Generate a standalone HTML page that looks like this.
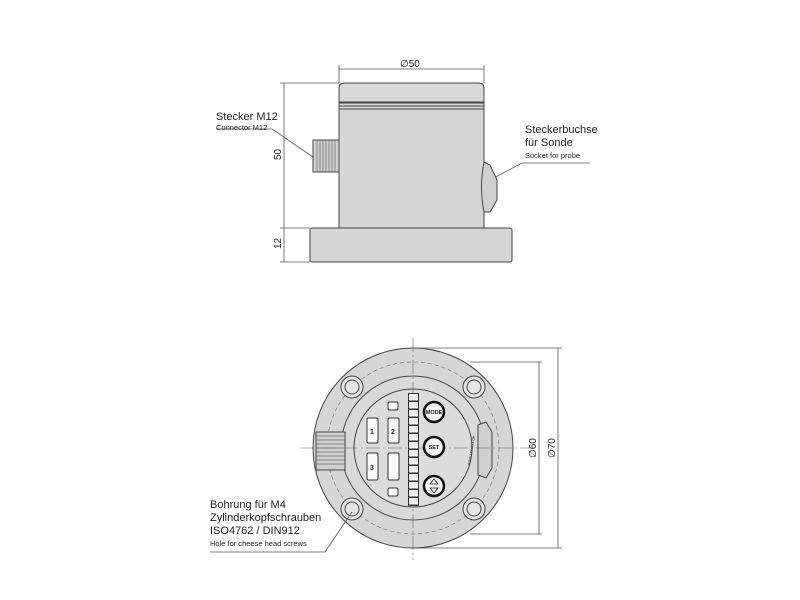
<!DOCTYPE html>
<html><head><meta charset="utf-8"><style>
html,body{margin:0;padding:0;background:#fff;}
svg{display:block;}
text{font-family:"Liberation Sans",sans-serif;fill:#222;}
</style></head><body>
<svg width="800" height="600" viewBox="0 0 800 600" xmlns="http://www.w3.org/2000/svg">
<!-- TOP VIEW -->
<g stroke="#555" stroke-width="0.8" fill="none">
 <!-- dim lines -->
 <line x1="339" y1="69" x2="484" y2="69"/>
 <line x1="339" y1="65" x2="339" y2="83"/>
 <line x1="484" y1="65" x2="484" y2="83"/>
 <line x1="280" y1="83" x2="339" y2="83"/>
 <line x1="280" y1="228" x2="310" y2="228"/>
 <line x1="280" y1="262" x2="310" y2="262"/>
 <line x1="284" y1="83" x2="284" y2="262"/>
 <!-- leaders -->
 <polyline points="216,129 272,129 313,157"/>
 <polyline points="590,163 522,163 490,180"/>
</g>
<text x="400" y="67" font-size="10">∅50</text>
<text x="281" y="160" font-size="10" transform="rotate(-90 281 160)">50</text>
<text x="281" y="249" font-size="10" transform="rotate(-90 281 249)">12</text>
<!-- body -->
<rect x="339" y="88" width="145" height="142" fill="#d6d6d6" stroke="#444" stroke-width="1"/>
<path d="M339,102 L339,88 Q339,83 345,83 L478,83 Q484,83 484,88 L484,102 Z" fill="#d9d9d9" stroke="#444"/>
<line x1="339" y1="103" x2="484" y2="103" stroke="#444"/>
<line x1="339" y1="106" x2="484" y2="106" stroke="#444"/>
<line x1="339" y1="109" x2="484" y2="109" stroke="#444"/>
<rect x="310" y="228" width="202" height="34" rx="2" fill="#d6d6d6" stroke="#444"/>
<!-- connector -->
<rect x="313" y="140" width="26" height="32" fill="#d0d0d0" stroke="#444"/>
<g stroke="#666" stroke-width="0.7">
 <line x1="317" y1="140" x2="317" y2="172"/><line x1="320" y1="140" x2="320" y2="172"/><line x1="323" y1="140" x2="323" y2="172"/><line x1="326" y1="140" x2="326" y2="172"/><line x1="329" y1="140" x2="329" y2="172"/><line x1="332" y1="140" x2="332" y2="172"/><line x1="335" y1="140" x2="335" y2="172"/>
</g>
<!-- socket -->
<path d="M484,162 L490,165 L497,180 L497,200 L490,212 L484,212 Q479,187 484,162 Z" fill="#d0d0d0" stroke="#444"/>
<text x="216" y="120" font-size="11">Stecker M12</text>
<text x="216" y="130" font-size="7.5">Connector M12</text>
<text x="525" y="133" font-size="11">Steckerbuchse</text>
<text x="525" y="146" font-size="11">für Sonde</text>
<text x="525" y="158" font-size="7.5">Socket for probe</text>

<!-- BOTTOM VIEW -->
<circle cx="413" cy="448" r="100" fill="#d6d6d6" stroke="#444" stroke-width="1"/>
<circle cx="413" cy="448" r="86" fill="none" stroke="#777" stroke-width="0.7" stroke-dasharray="4,3"/>
<circle cx="413" cy="448" r="72" fill="#d9d9d9" stroke="#444"/>
<circle cx="413" cy="448" r="59" fill="#dcdcdc" stroke="#444"/>
<!-- left connector -->
<rect x="316" y="432" width="29" height="38" fill="#d0d0d0" stroke="#444"/>
<g stroke="#666" stroke-width="0.7">
 <line x1="316" y1="436" x2="345" y2="436"/><line x1="316" y1="440" x2="345" y2="440"/><line x1="316" y1="444" x2="345" y2="444"/><line x1="316" y1="448" x2="345" y2="448"/><line x1="316" y1="452" x2="345" y2="452"/><line x1="316" y1="456" x2="345" y2="456"/><line x1="316" y1="460" x2="345" y2="460"/><line x1="316" y1="464" x2="345" y2="464"/>
</g>
<!-- right socket -->
<path d="M478,425 L486,422 L492,432 L492,468 L486,478 L478,475 Z" fill="#cfcfcf" stroke="#444"/>
<!-- center lines -->
<g stroke="#666" stroke-width="0.6" stroke-dasharray="14,3,2,3">
 <line x1="300" y1="448" x2="530" y2="448"/>
 <line x1="413" y1="338" x2="413" y2="560"/>
</g>
<!-- bolt holes -->
<g fill="#e4e4e4" stroke="#444">
 <circle cx="352" cy="387" r="11"/><circle cx="352" cy="387" r="7"/>
 <circle cx="474" cy="387" r="11"/><circle cx="474" cy="387" r="7"/>
 <circle cx="352" cy="509" r="11"/><circle cx="352" cy="509" r="7"/>
 <circle cx="474" cy="509" r="11"/><circle cx="474" cy="509" r="7"/>
</g>
<!-- keys -->
<g fill="#fafafa" stroke="#333">
 <rect x="388" y="402" width="10" height="8" rx="1.5"/>
 <rect x="367" y="418" width="11" height="25" rx="1.5"/>
 <rect x="388" y="418" width="11" height="25" rx="1.5"/>
 <rect x="367" y="453" width="11" height="27" rx="1.5"/>
 <rect x="388" y="453" width="11" height="27" rx="1.5"/>
 <rect x="388" y="488" width="10" height="8" rx="1.5"/>
</g>
<text x="370" y="434" font-size="7" font-weight="bold">1</text>
<text x="391" y="434" font-size="7" font-weight="bold">2</text>
<text x="370" y="470" font-size="7" font-weight="bold">3</text>
<!-- LED strip -->
<rect x="408" y="393" width="11" height="113" fill="#333"/>
<g fill="#f2f2f2">
 <rect x="409" y="394" width="9" height="6.5"/><rect x="409" y="402" width="9" height="6.5"/><rect x="409" y="410" width="9" height="6.5"/><rect x="409" y="418" width="9" height="6.5"/><rect x="409" y="426" width="9" height="6.5"/><rect x="409" y="434" width="9" height="6.5"/><rect x="409" y="442" width="9" height="6.5"/><rect x="409" y="450" width="9" height="6.5"/><rect x="409" y="458" width="9" height="6.5"/><rect x="409" y="466" width="9" height="6.5"/><rect x="409" y="474" width="9" height="6.5"/><rect x="409" y="482" width="9" height="6.5"/><rect x="409" y="490" width="9" height="6.5"/><rect x="409" y="498" width="9" height="6.5"/>
</g>
<!-- round buttons -->
<g fill="#f5f5f5" stroke="#111" stroke-width="2.5">
 <circle cx="434" cy="412" r="10"/><circle cx="434" cy="447" r="10"/><circle cx="434" cy="486" r="10"/>
</g>
<text x="434" y="414" font-size="5.5" font-weight="bold" text-anchor="middle">MODE</text>
<text x="434" y="449" font-size="5.5" font-weight="bold" text-anchor="middle">SET</text>
<path d="M430,484 L434,479 L438,484 Z M430,488 L434,493 L438,488 Z" fill="none" stroke="#222" stroke-width="0.8"/>
<text x="470" y="465" font-size="4" transform="rotate(-80 470 465)">www.xxxxxxx.de</text>
<!-- dims bottom -->
<g stroke="#555" stroke-width="0.8" fill="none">
 <line x1="413" y1="348" x2="562" y2="348"/>
 <line x1="413" y1="548" x2="562" y2="548"/>
 <line x1="558" y1="348" x2="558" y2="548"/>
 <line x1="470" y1="362" x2="542" y2="362"/>
 <line x1="470" y1="534" x2="542" y2="534"/>
 <line x1="539" y1="362" x2="539" y2="534"/>
 <polyline points="210,552 325,552 352,512"/>
</g>
<text x="536" y="458" font-size="10" transform="rotate(-90 536 458)">∅60</text>
<text x="555" y="458" font-size="10" transform="rotate(-90 555 458)">∅70</text>
<text x="210" y="508" font-size="11">Bohrung für M4</text>
<text x="210" y="521" font-size="11">Zylinderkopfschrauben</text>
<text x="210" y="534" font-size="11">ISO4762 / DIN912</text>
<text x="210" y="546" font-size="7.5">Hole for cheese head screws</text>
</svg>
</body></html>
